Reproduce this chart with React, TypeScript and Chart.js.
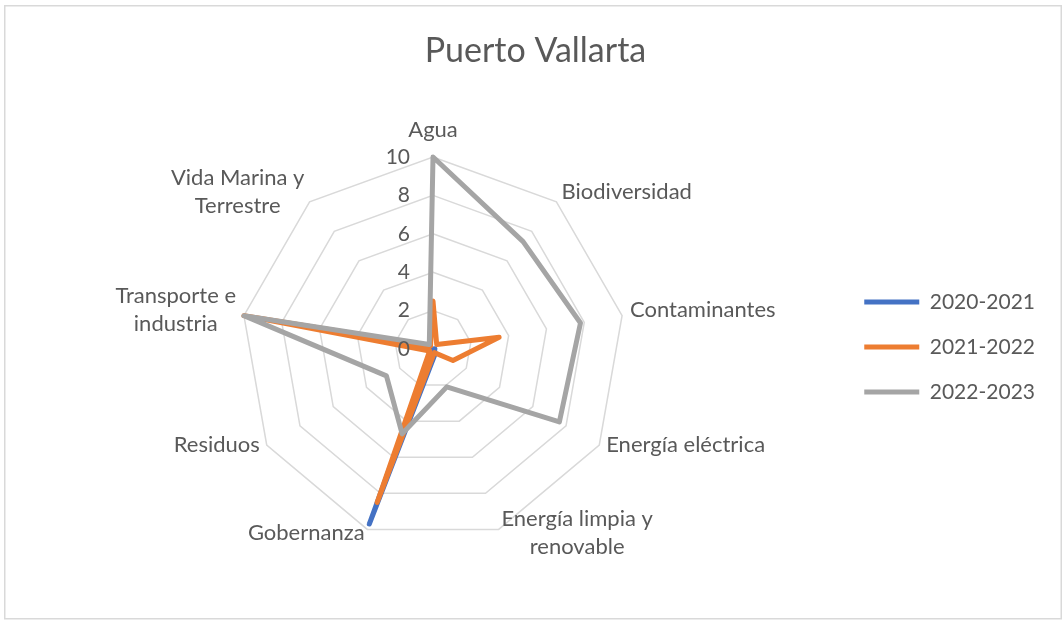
import React, { useEffect, useRef } from "react";
import { Chart, registerables } from "chart.js";

Chart.register(...registerables);

const chartTitle = "Puerto Vallarta";
const categories: (string | string[])[] = [
  "Agua",
  "Biodiversidad",
  "Contaminantes",
  "Energía eléctrica",
  ["Energía limpia y", "renovable"],
  "Gobernanza",
  "Residuos",
  ["Transporte e", "industria"],
  ["Vida Marina y", "Terrestre"],
];
const seriesNames = ["2020-2021", "2021-2022", "2022-2023"];
const values2020 = [0, 0, 0.1, 0.1, 0.3, 9.7, 0, 0, 0];
const values2021 = [2.5, 0.3, 3.5, 1.2, 0.2, 8.5, 0.2, 10, 0.2];
const values2022 = [10, 7.3, 7.8, 7.6, 2.1, 4.7, 2.8, 10, 0.3];
const tickValues = [0, 2, 4, 6, 8, 10];
const seriesColors = ["#4472C4", "#ED7D31", "#A5A5A5"];

const FONT = "Lato, 'Open Sans', sans-serif";
const TEXT = "#595959";

const tickPlugin = {
  id: "excelTicks",
  afterDatasetsDraw(chart: any) {
    const s = chart.scales.r;
    const ctx = chart.ctx;
    ctx.save();
    ctx.font = `21px ${FONT}`;
    ctx.fillStyle = TEXT;
    ctx.textAlign = "right";
    ctx.textBaseline = "middle";
    tickValues.forEach((v) => {
      const d = s.getDistanceFromCenterForValue(v);
      ctx.fillText(String(v), s.xCenter - 23, s.yCenter - d);
    });
    ctx.restore();
  },
};

const pointLabelPlugin = {
  id: "excelPointLabels",
  afterDatasetsDraw(chart: any) {
    const s = chart.scales.r;
    const ctx = chart.ctx;
    const labels = chart.data.labels as (string | string[])[];
    const n = labels.length;
    const lineH = 28;
    ctx.save();
    ctx.font = `22px ${FONT}`;
    ctx.fillStyle = TEXT;
    ctx.textAlign = "left";
    ctx.textBaseline = "middle";
    labels.forEach((lab, i) => {
      const lines = Array.isArray(lab) ? lab : [lab];
      const angleDeg = (360 / n) * i;
      const widths = lines.map((l) => ctx.measureText(l).width);
      const blockW = Math.max(...widths);
      let left: number;
      let cy: number;
      if (angleDeg === 0) {
        const p = s.getPointPosition(i, s.drawingArea);
        cy = p.y - 27 - ((lines.length - 1) * lineH) / 2;
        left = p.x - blockW / 2;
      } else {
        const p = s.getPointPosition(i, s.drawingArea + 8);
        cy = p.y - 4;
        if (angleDeg < 180) left = p.x;
        else if (angleDeg > 180) left = p.x - blockW;
        else left = p.x - blockW / 2;
      }
      lines.forEach((l, k) => {
        const y = cy + (k - (lines.length - 1) / 2) * lineH;
        ctx.fillText(l, left + (blockW - widths[k]) / 2, y);
      });
    });
    ctx.restore();
  },
};

const borderPlugin = {
  id: "outerBorder",
  beforeDraw(chart: any) {
    const ctx = chart.ctx;
    ctx.save();
    ctx.strokeStyle = "#d9d9d9";
    ctx.lineWidth = 1.5;
    ctx.strokeRect(4.75, 5.75, 1056.5, 613);
    ctx.restore();
  },
};

export default function App() {
  const ref = useRef<HTMLCanvasElement>(null);
  useEffect(() => {
    document.body.style.margin = "0";
    const data = [values2020, values2021, values2022];
    const chart = new Chart(ref.current!, {
      type: "radar",
      data: {
        labels: categories,
        datasets: seriesNames.map((name, i) => ({
          label: name,
          data: data[i],
          borderColor: seriesColors[i],
          backgroundColor: seriesColors[i],
          borderWidth: 5,
          fill: false,
          pointRadius: 0,
          pointHoverRadius: 0,
          tension: 0,
          borderJoinStyle: "round" as const,
          order: 3 - i,
        })),
      },
      options: {
        animation: false,
        responsive: false,
        maintainAspectRatio: false,
        layout: { padding: { left: 26, right: 18, top: 0, bottom: 78 } },
        plugins: {
          title: {
            display: true,
            text: chartTitle,
            color: TEXT,
            font: { family: FONT, size: 34, weight: "normal" },
            padding: { top: 31, bottom: 86 },
          },
          legend: {
            position: "right",
            align: "center",
            title: {
              display: true,
              text: "",
              font: { family: FONT, size: 10 },
              padding: { top: 140, bottom: 0 },
            },
            labels: {
              color: TEXT,
              font: { family: FONT, size: 21 },
              boxWidth: 55,
              boxHeight: 5,
              padding: 24,
              useBorderRadius: true,
              borderRadius: 2.5,
              generateLabels: (c: any) =>
                c.data.datasets.map((ds: any, i: number) => ({
                  text: ds.label,
                  fillStyle: seriesColors[i],
                  strokeStyle: seriesColors[i],
                  lineWidth: 0,
                  fontColor: TEXT,
                  datasetIndex: i,
                  hidden: false,
                })),
            },
          },
          tooltip: { enabled: false },
        },
        scales: {
          r: {
            min: 0,
            max: 10,
            ticks: { stepSize: 2, display: false },
            grid: { color: "#d9d9d9", lineWidth: 1.5 },
            angleLines: { display: false },
            pointLabels: { display: false },
          },
        },
      },
      plugins: [tickPlugin, pointLabelPlugin, borderPlugin],
    });
    return () => chart.destroy();
  }, []);
  return (
    <div style={{ width: 1063, height: 620, position: "relative" }}>
      <canvas ref={ref} width={1063} height={620} style={{ display: "block" }} />
    </div>
  );
}
